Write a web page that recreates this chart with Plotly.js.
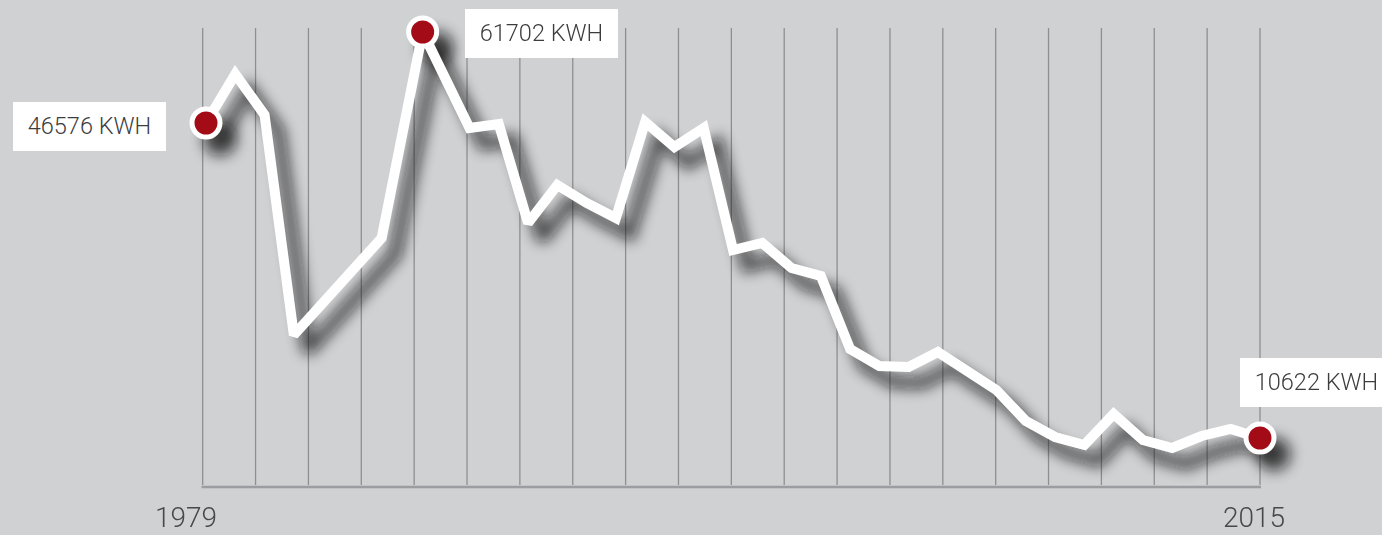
<!DOCTYPE html>
<html>
<head>
<meta charset="utf-8">
<script src="https://cdn.plot.ly/plotly-3.0.1.min.js"></script>
<style>
  html, body { margin: 0; padding: 0; background: #d0d1d3; }
  #chart { width: 1382px; height: 535px; }
</style>
</head>
<body>
<div id="chart"></div>
<script>
// ---------- data ----------
const years = [1979, 1980, 1981, 1982, 1985, 1986.4, 1988, 1989, 1990, 1991, 1992, 1993,
               1994, 1995, 1996, 1997, 1998, 1999, 2000, 2001, 2002, 2003, 2004, 2005,
               2006, 2007, 2008, 2009, 2010, 2011, 2012, 2013, 2014, 2015];
const consumptionKWh = [46576, 52169, 47489, 22378, 33450, 56963, 46005, 46462, 35162, 39499, 37445, 35733,
                        46690, 43837, 46005, 32080, 32879, 30026, 29113, 20780, 18840, 18726, 20438, 18155,
                        16101, 12562, 10736, 9823, 13361, 10394, 9481, 10850, 11649, 10622];
const highlightIndex = [0, 5, 33];
const highlightLabels = ['46576 KWH', '61702 KWH', '10622 KWH'];
const axisLabelYears = [1979, 2015];
const axisLabelText = ['1979', '2015'];

// ---------- layout constants ----------
const W = 1382, H = 535;
const firstPx = 206, lastPx = 1260;
const pxPerYear = (lastPx - firstPx) / (2015 - 1979);
const xRange = [1979 - firstPx / pxPerYear, 1979 + (W - firstPx) / pxPerYear];
const yPxFirst = 123, yPxLast = 438;
const kwhPerPx = (46576 - 10622) / (yPxLast - yPxFirst);
const yRange = [10622 - (H - yPxLast) * kwhPerPx, 10622 + yPxLast * kwhPerPx];

const hx = highlightIndex.map(i => years[i]);
const hy = highlightIndex.map(i => consumptionKWh[i]);

const traces = [
  { // shadow of line
    x: years, y: consumptionKWh, type: 'scatter', mode: 'lines',
    line: { color: '#111111', width: 12 }, opacity: 0.7, hoverinfo: 'skip'
  },
  { // shadow of markers
    x: hx, y: hy, type: 'scatter', mode: 'markers',
    marker: { color: '#111111', size: 34, line: { width: 0 } }, opacity: 0.7, hoverinfo: 'skip',
    cliponaxis: false
  },
  { // white line
    x: years, y: consumptionKWh, type: 'scatter', mode: 'lines',
    line: { color: '#ffffff', width: 10 }, hoverinfo: 'skip'
  },
  { // red markers
    x: hx, y: hy, type: 'scatter', mode: 'markers', cliponaxis: false,
    marker: { color: '#a30b16', size: 28, line: { color: '#ffffff', width: 5 } }, hoverinfo: 'skip'
  }
];

// decorative vertical grid
const gridCount = 21, gridLeft = 202.7, gridStep = (1260 - 202.7) / 20;
const shapes = [];
for (let i = 0; i < gridCount; i++) {
  const px = gridLeft + i * gridStep;
  shapes.push({ type: 'line', layer: 'below', xref: 'paper', yref: 'paper',
    x0: px / W, x1: px / W, y0: (H - 485) / H, y1: (H - 28) / H,
    line: { color: '#8e8f91', width: 1.3 } });
}
shapes.push({ type: 'line', layer: 'below', xref: 'paper', yref: 'paper',
  x0: 201.5 / W, x1: 1261 / W, y0: (H - 487) / H, y1: (H - 487) / H,
  line: { color: '#9c9da0', width: 2.5 } });

const labelFont = { family: 'Roboto, "Open Sans", sans-serif', size: 23.5, color: '#3d3d3f', weight: 300 };
const labelPlacement = [
  { xanchor: 'right', xshift: -40, yshift: -3.5 },
  { xanchor: 'left', xshift: 42, yshift: -1.5 },
  { xanchor: 'left', xshift: -20, yshift: 55.5 }
];
const annotations = highlightIndex.map((idx, k) => ({
  x: years[idx], y: consumptionKWh[idx], xref: 'x', yref: 'y',
  text: highlightLabels[k], showarrow: false,
  xanchor: labelPlacement[k].xanchor, yanchor: 'middle',
  xshift: labelPlacement[k].xshift, yshift: labelPlacement[k].yshift,
  bgcolor: '#ffffff', borderwidth: 0, borderpad: 0,
  width: 153, height: 48.6, align: 'center', valign: 'middle',
  font: labelFont
}));
const axisLabelShift = [-20, -6];
axisLabelYears.forEach((yr, k) => {
  annotations.push({
    x: yr, y: (H - 517) / H, xref: 'x', yref: 'paper', text: axisLabelText[k],
    showarrow: false, xanchor: 'center', yanchor: 'middle', xshift: axisLabelShift[k],
    font: { family: 'Roboto, "Open Sans", sans-serif', size: 28, color: '#47484a', weight: 300 }
  });
});

const layout = {
  width: W, height: H,
  margin: { l: 0, r: 0, t: 0, b: 0, pad: 0 },
  paper_bgcolor: '#d0d1d3', plot_bgcolor: 'rgba(0,0,0,0)',
  showlegend: false,
  xaxis: { range: xRange, visible: false, fixedrange: true },
  yaxis: { range: yRange, visible: false, fixedrange: true },
  shapes: shapes,
  annotations: annotations
};

const gd = document.getElementById('chart');
Plotly.newPlot(gd, traces, layout, { staticPlot: true, displayModeBar: false }).then(function () {
  const NS = 'http://www.w3.org/2000/svg';
  const svg = gd.querySelector('svg.main-svg');
  let defs = svg.querySelector('defs');
  if (!defs) { defs = document.createElementNS(NS, 'defs'); svg.insertBefore(defs, svg.firstChild); }
  const f = document.createElementNS(NS, 'filter');
  f.setAttribute('id', 'lineShadowFilter');
  f.setAttribute('filterUnits', 'userSpaceOnUse');
  f.setAttribute('x', '-100'); f.setAttribute('y', '-100');
  f.setAttribute('width', String(W + 200)); f.setAttribute('height', String(H + 200));
  const blur = document.createElementNS(NS, 'feGaussianBlur');
  blur.setAttribute('in', 'SourceGraphic'); blur.setAttribute('stdDeviation', '7');
  blur.setAttribute('result', 'b');
  const off = document.createElementNS(NS, 'feOffset');
  off.setAttribute('in', 'b'); off.setAttribute('dx', '14'); off.setAttribute('dy', '16');
  f.appendChild(blur); f.appendChild(off);
  defs.appendChild(f);
  const tr = gd.querySelectorAll('.scatterlayer .trace');
  if (tr.length >= 2) {
    tr[0].setAttribute('filter', 'url(#lineShadowFilter)');
    tr[1].setAttribute('filter', 'url(#lineShadowFilter)');
  }
});
</script>
</body>
</html>
